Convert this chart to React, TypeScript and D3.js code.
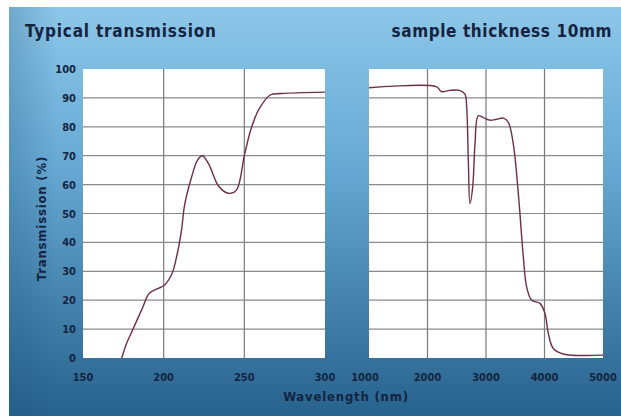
import React, { useEffect, useRef } from 'react';
import * as d3 from 'd3';

// UV range (left panel)
const uvWavelength = [174, 177, 181, 187, 191, 197, 200, 205, 208, 211, 213, 217, 221, 224, 228, 234, 240, 245, 250, 254, 259, 266, 273, 300];
const uvTransmission = [0, 5, 10, 17.5, 22.3, 24.2, 25, 29, 35, 44, 53, 62, 68.5, 70, 67, 59.5, 57, 58, 70, 79, 86, 91, 91.5, 92];

// IR range (right panel)
const irWavelength = [1000, 2150, 2240, 2380, 2550, 2640, 2670, 2698, 2726, 2772, 2812, 2868, 2954, 3068, 3183, 3296, 3382, 3467, 3553, 3638, 3695, 3781, 3923, 4008, 4065, 4150, 4320, 5000];
const irTransmission = [93.5, 93.9, 92.2, 92.6, 92.6, 91.3, 86.7, 68.3, 53.4, 59, 74, 83.8, 83.2, 82.3, 82.6, 83, 81.5, 74, 56.8, 35, 24.6, 20, 18.9, 15.4, 8.5, 3.3, 1.4, 1];

const yTicks = [0, 10, 20, 30, 40, 50, 60, 70, 80, 90, 100];
const uvTicks = [150, 200, 250, 300];
const irTicks = [1000, 2000, 3000, 4000, 5000];

const W = 621;
const H = 416;
const FONT = '"Liberation Sans Narrow", "DejaVu Sans Condensed", sans-serif';
const INK = '#14243f';

const App = () => {
    const svgRef = useRef<SVGSVGElement>(null);

    useEffect(() => {
        const svg = d3.select(svgRef.current);
        svg.selectAll('*').remove();

        const defs = svg.append('defs');
        const grad = defs.append('linearGradient')
            .attr('id', 'bg')
            .attr('x1', 0).attr('y1', 0).attr('x2', 0).attr('y2', 1);
        grad.append('stop').attr('offset', '0%').attr('stop-color', '#8dc7e9');
        grad.append('stop').attr('offset', '40%').attr('stop-color', '#66a8d3');
        grad.append('stop').attr('offset', '100%').attr('stop-color', '#27628d');

        // slight darkening towards the left edge
        const side = defs.append('linearGradient')
            .attr('id', 'side')
            .attr('x1', 0).attr('y1', 0).attr('x2', 1).attr('y2', 0);
        side.append('stop').attr('offset', '0%').attr('stop-color', '#1d4f78').attr('stop-opacity', 0.25);
        side.append('stop').attr('offset', '8%').attr('stop-color', '#1d4f78').attr('stop-opacity', 0);
        side.append('stop').attr('offset', '100%').attr('stop-color', '#1d4f78').attr('stop-opacity', 0);

        svg.append('rect').attr('width', W).attr('height', H).attr('fill', '#fff');
        svg.append('rect')
            .attr('x', 9).attr('y', 7)
            .attr('width', W - 9).attr('height', H - 7)
            .attr('fill', 'url(#bg)');
        svg.append('rect')
            .attr('x', 9).attr('y', 7)
            .attr('width', W - 9).attr('height', H - 7)
            .attr('fill', 'url(#side)');

        const top = 69;
        const bottom = 358;
        const y = d3.scaleLinear().domain([0, 100]).range([bottom, top]);

        const panels = [
            { x: d3.scaleLinear().domain([150, 300]).range([83, 325]), ticks: uvTicks, xs: uvWavelength, ys: uvTransmission, yLabels: true },
            { x: d3.scaleLinear().domain([1000, 5000]).range([369, 603]), ticks: irTicks, xs: irWavelength, ys: irTransmission, yLabels: false },
        ];

        panels.forEach(p => {
            const [x0, x1] = p.x.range();
            const g = svg.append('g');

            g.append('rect')
                .attr('x', x0).attr('y', top)
                .attr('width', x1 - x0).attr('height', bottom - top)
                .attr('fill', '#fff');

            // horizontal grid
            g.selectAll('.hg')
                .data(yTicks.slice(1, -1))
                .enter()
                .append('line')
                .attr('x1', x0).attr('x2', x1)
                .attr('y1', d => y(d)).attr('y2', d => y(d))
                .attr('stroke', '#8a8a8a')
                .attr('stroke-width', 1.2);

            // vertical grid
            g.selectAll('.vg')
                .data(p.ticks.slice(1, -1))
                .enter()
                .append('line')
                .attr('x1', d => p.x(d)).attr('x2', d => p.x(d))
                .attr('y1', top).attr('y2', bottom)
                .attr('stroke', '#7a7a7a')
                .attr('stroke-width', 1.2);

            // x tick labels
            g.selectAll('.xl')
                .data(p.ticks)
                .enter()
                .append('text')
                .attr('x', d => p.x(d) - (d === 1000 ? 4 : 0))
                .attr('y', 381)
                .attr('text-anchor', 'middle')
                .style('font-family', FONT)
                .style('font-weight', 'bold')
                .style('font-size', '11px')
                .style('fill', INK)
                .text(d => d);

            if (p.yLabels) {
                g.selectAll('.yl')
                    .data(yTicks)
                    .enter()
                    .append('text')
                    .attr('x', 76)
                    .attr('y', d => y(d) + 4)
                    .attr('text-anchor', 'end')
                    .style('font-family', FONT)
                    .style('font-weight', 'bold')
                    .style('font-size', '11px')
                    .style('fill', INK)
                    .text(d => d);
            }

            const line = d3.line<number>()
                .x((d, i) => p.x(p.xs[i]))
                .y(d => y(d))
                .curve(d3.curveCatmullRom.alpha(0.5));

            g.append('path')
                .datum(p.ys)
                .attr('d', line)
                .attr('fill', 'none')
                .attr('stroke', '#6e2f45')
                .attr('stroke-width', 1.4);
        });

        // titles
        svg.append('text')
            .attr('x', 25).attr('y', 37)
            .style('font-family', FONT)
            .style('font-weight', 'bold')
            .style('font-size', '17px')
            .style('letter-spacing', '0.8px')
            .style('fill', INK)
            .text('Typical transmission');

        svg.append('text')
            .attr('x', 612).attr('y', 37)
            .attr('text-anchor', 'end')
            .style('font-family', FONT)
            .style('font-weight', 'bold')
            .style('font-size', '17px')
            .style('letter-spacing', '0.6px')
            .style('fill', INK)
            .text('sample thickness 10mm');

        svg.append('text')
            .attr('x', 346).attr('y', 401)
            .attr('text-anchor', 'middle')
            .style('font-family', FONT)
            .style('font-weight', 'bold')
            .style('font-size', '13px')
            .style('letter-spacing', '0.8px')
            .style('fill', INK)
            .text('Wavelength (nm)');

        svg.append('text')
            .attr('transform', `translate(46, ${(top + bottom) / 2 + 5}) rotate(-90)`)
            .attr('text-anchor', 'middle')
            .style('font-family', FONT)
            .style('font-weight', 'bold')
            .style('font-size', '13px')
            .style('letter-spacing', '0.8px')
            .style('fill', INK)
            .text('Transmission (%)');
    }, []);

    return (
        <svg
            ref={svgRef}
            width={W}
            height={H}
            style={{ position: 'absolute', left: 0, top: 0, display: 'block' }}
        />
    );
};

export default App;
